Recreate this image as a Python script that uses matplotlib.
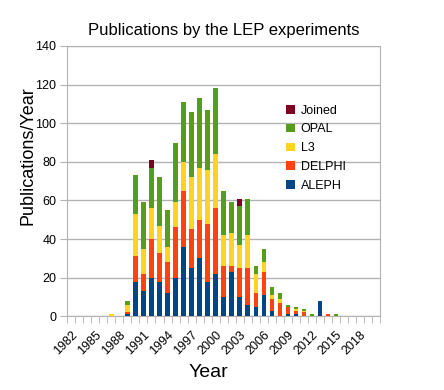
import matplotlib
matplotlib.use("Agg")
import matplotlib.pyplot as plt
import numpy as np

plt.rcParams['font.family'] = ['Liberation Sans', 'DejaVu Sans']

years = list(range(1982, 2021))
def series(d):
    return [d.get(y, 0) for y in years]

aleph = series({1989: 1, 1990: 18, 1991: 13, 1992: 20, 1993: 18, 1994: 12, 1995: 20, 1996: 36,
                1997: 25, 1998: 30, 1999: 18, 2000: 22, 2001: 10, 2002: 23, 2003: 10, 2004: 6,
                2005: 5, 2006: 11, 2007: 3, 2009: 1, 2010: 1, 2013: 8})
delphi = series({1989: 1, 1990: 13, 1991: 9, 1992: 20, 1993: 15, 1994: 16, 1995: 26, 1996: 29,
                 1997: 20, 1998: 20, 1999: 30, 2000: 34, 2001: 16, 2002: 3, 2003: 15, 2004: 19,
                 2005: 7, 2006: 12, 2007: 6, 2008: 7, 2009: 4, 2010: 2, 2011: 2, 2014: 1})
l3 = series({1987: 1, 1989: 4, 1990: 22, 1991: 13, 1992: 16, 1993: 14, 1994: 8, 1995: 13, 1996: 15,
             1997: 27, 1998: 27, 1999: 28, 2000: 28, 2001: 16, 2002: 17, 2003: 12, 2004: 17,
             2005: 10, 2006: 5, 2007: 2, 2008: 2, 2010: 1, 2011: 1})
opal = series({1989: 2, 1990: 20, 1991: 24, 1992: 21, 1993: 25, 1994: 19, 1995: 31, 1996: 31,
               1997: 34, 1998: 36, 1999: 31, 2000: 34, 2001: 23, 2002: 16, 2003: 20, 2004: 19,
               2005: 4, 2006: 7, 2007: 4, 2008: 3, 2009: 1, 2010: 1, 2011: 1, 2012: 1, 2015: 1})
joined = series({1992: 4, 2003: 4})

names = ["ALEPH", "DELPHI", "L3", "OPAL", "Joined"]
colors = ["#004586", "#ff420e", "#ffd320", "#579d1c", "#7e0021"]
data = [aleph, delphi, l3, opal, joined]

fig = plt.figure(figsize=(4.44, 3.90), dpi=100)
ax = fig.add_axes([67.3/444, 1-316.3/390, (380-67.3)/444, (316.3-46)/390])

x = np.arange(len(years))
bottom = np.zeros(len(years))
handles = []
for vals, c, n in zip(data, colors, names):
    v = np.array(vals, dtype=float)
    h = ax.bar(x, v, width=0.55, bottom=bottom, color=c, label=n, zorder=3)
    handles.append(h)
    bottom += v

ax.set_xlim(-0.5, len(years) - 0.5)
ax.set_ylim(0, 140)
ax.set_yticks(range(0, 141, 20))
ax.yaxis.grid(True, color='#b3b3b3', linewidth=1, zorder=0)
ax.tick_params(axis='y', length=5, color='#b3b3b3', labelsize=9, pad=3)

lab_idx = [i for i, y in enumerate(years) if (y - 1982) % 3 == 0]
ax.set_xticks(lab_idx)
ax.set_xticklabels([str(years[i]) for i in lab_idx], rotation=45, ha='right',
                   rotation_mode='anchor', fontsize=9)
ax.tick_params(axis='x', which='major', length=0, pad=9)
ax.set_xticks(np.arange(-0.5, len(years)), minor=True)
ax.tick_params(axis='x', which='minor', length=5, color='#b3b3b3')

for s in ax.spines.values():
    s.set_color('#b3b3b3')

ax.set_ylabel("Publications/Year", fontsize=13)
ax.yaxis.set_label_coords(-0.097, 0.595)
ax.set_xlabel("Year", fontsize=14)
ax.xaxis.set_label_coords(0.45, -0.178)
ax.set_title("Publications by the LEP experiments", fontsize=12, pad=8)

leg = ax.legend(handles[::-1], names[::-1], loc='upper left', bbox_to_anchor=(0.665, 0.825),
                frameon=False, fontsize=9, handlelength=0.7, handleheight=0.7,
                handletextpad=0.45, labelspacing=0.55)

fig.savefig("out.png", dpi=100)
